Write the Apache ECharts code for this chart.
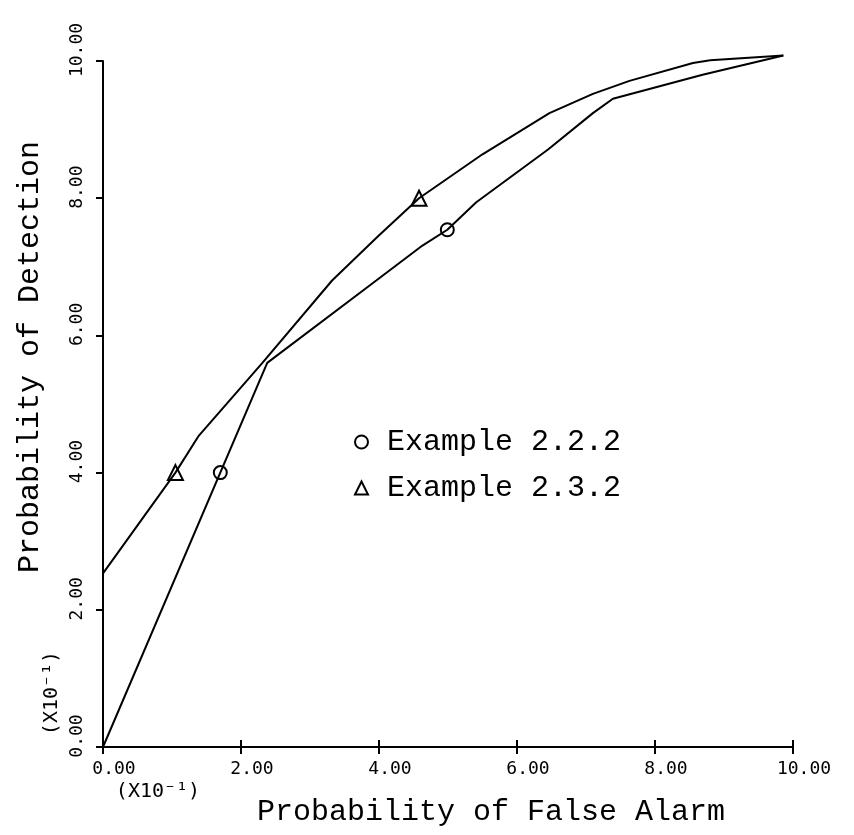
<!DOCTYPE html>
<html>
<head>
<meta charset="utf-8">
<script src="https://cdn.jsdelivr.net/npm/echarts@6/dist/echarts.min.js"></script>
<style>
	html, body { margin: 0; padding: 0; background: #fff; }
	#roc-chart { width: 854px; height: 835px; }
</style>
</head>
<body>
<div id="roc-chart"></div>
<script>
	"use strict";

	// ______________ DATA
	var xTickValues = [0, 2, 4, 6, 8, 10];
	var yTickValues = [0, 2, 4, 6, 8, 10];
	var legendNames = ['Example 2.2.2', 'Example 2.3.2'];

	// lower curve, circles sit on it
	var lowerCurve = [[0, 0], [2.38, 5.6], [3.96, 6.8], [4.63, 7.31], [4.99, 7.54], [5.41, 7.94],
		[6.45, 8.71], [7.1, 9.24], [7.39, 9.45], [8.69, 9.8], [9.86, 10.08]];
	// upper curve, triangles sit on it
	var upperCurve = [[0, 2.53], [1.05, 4.0], [1.39, 4.54], [2.31, 5.6], [3.32, 6.8], [3.99, 7.45],
		[4.58, 8.0], [5.5, 8.64], [6.47, 9.24], [7.1, 9.52], [7.63, 9.71], [8.55, 9.97], [8.8, 10.01], [9.86, 10.08]];
	var circlePoints = [[1.7, 4.0], [4.99, 7.54]];
	var trianglePoints = [[1.05, 4.0], [4.58, 8.0]];

	// ______________ STYLE
	var ink = '#000';
	var monoFont = 'Liberation Mono';
	var tickFont = 'DejaVu Sans Mono';
	var H = 835;
	var plot = { left: 103, right: 61, top: 61, bottom: 88 };
	var tickLen = 7;

	function tickLabel(v) {
		return v.toFixed(2);
	}

	// extra x axis on top, pulled back onto the bottom line,
	// so its outward ticks make the upper half of the "+" marks
	function crossTickAxis(pull) {
		return {
			type: 'value',
			min: 0,
			max: 10,
			interval: 2,
			position: 'top',
			offset: -pull,
			splitLine: { show: false },
			axisLine: { show: false },
			axisTick: { show: true, length: tickLen, inside: false, lineStyle: { color: ink, width: 2 } },
			axisLabel: { show: false }
		};
	}

	var chart = echarts.init(document.getElementById('roc-chart'), null, { renderer: 'canvas' });

	chart.setOption({
		backgroundColor: '#fff',
		animation: false,
		grid: plot,
		legend: {
			orient: 'vertical',
			left: 349,
			top: 422,
			itemWidth: 13,
			itemHeight: 13,
			itemGap: 16,
			selectedMode: false,
			data: [{ name: legendNames[0], icon: 'circle' }, { name: legendNames[1], icon: 'triangle' }],
			textStyle: {
				fontFamily: monoFont,
				fontSize: 30,
				lineHeight: 30,
				color: ink,
				padding: [0, 0, 0, 14]
			}
		},
		xAxis: [{
			type: 'value',
			min: xTickValues[0],
			max: xTickValues[xTickValues.length - 1],
			interval: 2,
			position: 'bottom',
			name: 'Probability of False Alarm',
			nameLocation: 'middle',
			nameGap: 50,
			nameTextStyle: {
				fontFamily: monoFont,
				fontSize: 30,
				color: ink,
				padding: [0, 0, 0, 86]
			},
			splitLine: { show: false },
			axisLine: { show: true, lineStyle: { color: ink, width: 2 } },
			axisTick: { show: true, length: tickLen, inside: false, lineStyle: { color: ink, width: 2 } },
			axisLabel: {
				formatter: tickLabel,
				margin: 13,
				fontFamily: tickFont,
				fontSize: 18,
				color: ink,
				padding: [0, 0, 0, 22]
			}
		}, crossTickAxis(H - plot.top - plot.bottom)],
		yAxis: {
			type: 'value',
			min: yTickValues[0],
			max: yTickValues[yTickValues.length - 1],
			interval: 2,
			position: 'left',
			name: 'Probability of Detection',
			nameLocation: 'middle',
			nameGap: 58,
			nameTextStyle: {
				fontFamily: monoFont,
				fontSize: 30,
				color: ink,
				padding: [0, 0, 0, 94]
			},
			splitLine: { show: false },
			axisLine: { show: true, lineStyle: { color: ink, width: 2 } },
			axisTick: { show: true, length: tickLen, inside: false, lineStyle: { color: ink, width: 2 } },
			axisLabel: {
				formatter: tickLabel,
				rotate: 90,
				margin: 17,
				fontFamily: tickFont,
				fontSize: 18,
				color: ink,
				padding: [0, 0, 0, 22]
			}
		},
		graphic: [{
			type: 'text',
			x: 158,
			y: 792,
			style: {
				text: '(X10⁻¹)',
				fontFamily: tickFont,
				fontSize: 20,
				fill: ink,
				align: 'center',
				verticalAlign: 'middle'
			}
		}, {
			type: 'text',
			x: 52,
			y: 693,
			rotation: Math.PI / 2,
			style: {
				text: '(X10⁻¹)',
				fontFamily: tickFont,
				fontSize: 20,
				fill: ink,
				align: 'center',
				verticalAlign: 'middle'
			}
		}],
		series: [{
			name: 'lower',
			type: 'line',
			data: lowerCurve,
			symbol: 'none',
			clip: false,
			lineStyle: { color: ink, width: 2 },
			z: 2
		}, {
			name: 'upper',
			type: 'line',
			data: upperCurve,
			symbol: 'none',
			clip: false,
			lineStyle: { color: ink, width: 2 },
			z: 2
		}, {
			name: legendNames[0],
			type: 'scatter',
			data: circlePoints,
			symbol: 'circle',
			symbolSize: 13,
			itemStyle: { color: 'rgba(0,0,0,0)', borderColor: ink, borderWidth: 2, opacity: 1 },
			z: 3
		}, {
			name: legendNames[1],
			type: 'scatter',
			data: trianglePoints,
			symbol: 'triangle',
			symbolSize: 15,
			itemStyle: { color: 'rgba(0,0,0,0)', borderColor: ink, borderWidth: 2, opacity: 1 },
			z: 3
		}]
	});
</script>
</body>
</html>
